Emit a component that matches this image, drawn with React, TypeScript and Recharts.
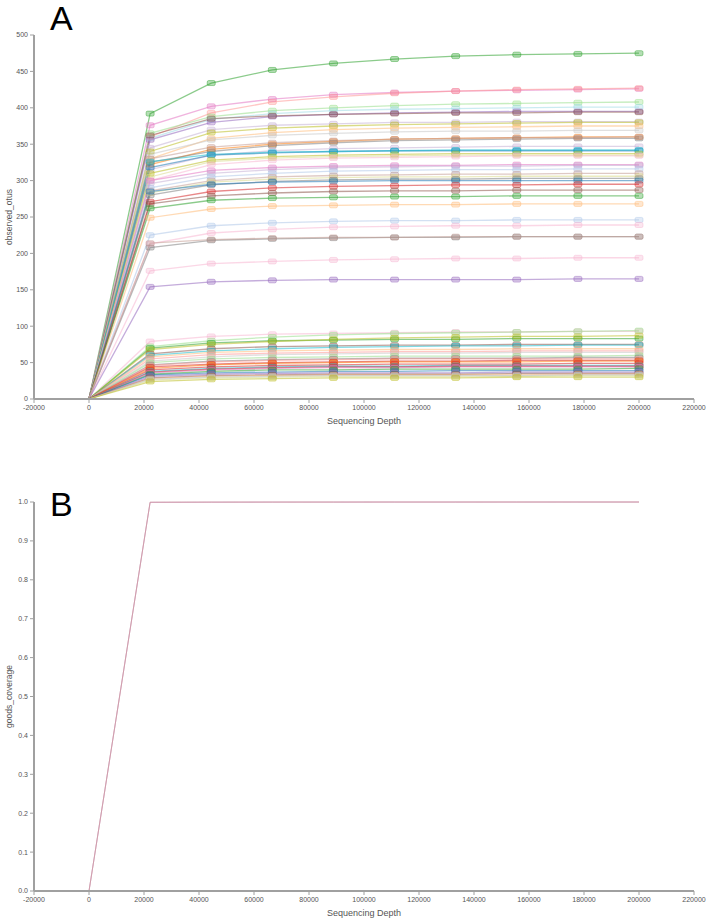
import React from "react";
import { LineChart, Line, XAxis, YAxis } from "recharts";

// sampling depths used by the rarefaction
const depths = [0, 22222, 44444, 66667, 88889, 111111, 133333, 155556, 177778, 200000];

const xTicks = [-20000, 0, 20000, 40000, 60000, 80000, 100000, 120000, 140000, 160000, 180000, 200000, 220000];
const otuTicks = [0, 50, 100, 150, 200, 250, 300, 350, 400, 450, 500];
const coverageTicks = [0, 0.1, 0.2, 0.3, 0.4, 0.5, 0.6, 0.7, 0.8, 0.9, 1.0];

// observed_otus per sample, one row per sample (values at each depth)
const otuValues = [
    [0, 392, 434, 452, 461, 467, 471, 473, 474, 475],
    [0, 376, 402, 412, 418, 421, 423, 424, 425, 426],
    [0, 360, 393, 408, 415, 420, 423, 425, 426, 427],
    [0, 365, 388, 396, 400, 403, 405, 406, 407, 408],
    [0, 358, 384, 392, 396, 398, 399, 400, 401, 401],
    [0, 356, 380, 388, 391, 393, 394, 395, 395, 395],
    [0, 362, 385, 389, 391, 392, 393, 393, 394, 394],
    [0, 345, 370, 376, 378, 380, 380, 381, 381, 381],
    [0, 340, 366, 372, 375, 377, 378, 379, 380, 380],
    [0, 330, 358, 366, 370, 372, 373, 374, 375, 375],
    [0, 336, 356, 362, 365, 367, 368, 368, 369, 369],
    [0, 322, 343, 350, 354, 357, 358, 359, 360, 360],
    [0, 325, 340, 348, 352, 355, 356, 357, 358, 358],
    [0, 330, 346, 352, 355, 357, 358, 359, 359, 360],
    [0, 315, 335, 341, 344, 345, 346, 347, 347, 347],
    [0, 318, 335, 338, 340, 341, 341, 341, 341, 341],
    [0, 326, 336, 339, 340, 341, 342, 342, 342, 342],
    [0, 310, 328, 333, 335, 336, 337, 337, 337, 337],
    [0, 305, 326, 331, 333, 334, 335, 335, 335, 335],
    [0, 300, 322, 328, 331, 332, 333, 334, 334, 334],
    [0, 300, 314, 318, 320, 321, 321, 322, 322, 322],
    [0, 296, 310, 315, 318, 319, 320, 320, 321, 321],
    [0, 290, 305, 310, 313, 314, 315, 315, 316, 316],
    [0, 286, 300, 305, 307, 308, 309, 309, 310, 310],
    [0, 283, 298, 302, 304, 305, 305, 306, 306, 306],
    [0, 280, 294, 299, 301, 302, 302, 303, 303, 303],
    [0, 285, 295, 298, 299, 300, 300, 300, 300, 300],
    [0, 271, 285, 290, 292, 293, 294, 294, 295, 295],
    [0, 268, 279, 283, 285, 286, 286, 287, 287, 287],
    [0, 262, 273, 276, 277, 278, 278, 279, 279, 279],
    [0, 249, 261, 265, 266, 267, 267, 268, 268, 268],
    [0, 225, 238, 242, 244, 245, 245, 246, 246, 246],
    [0, 213, 228, 233, 236, 237, 238, 238, 239, 239],
    [0, 208, 218, 220, 221, 222, 222, 223, 223, 223],
    [0, 214, 219, 221, 222, 222, 223, 223, 223, 223],
    [0, 176, 186, 189, 191, 192, 193, 193, 194, 194],
    [0, 154, 161, 163, 164, 164, 164, 164, 165, 165],
    [0, 79, 86, 89, 90, 91, 92, 92, 93, 93],
    [0, 72, 80, 85, 88, 90, 91, 92, 93, 94],
    [0, 70, 77, 80, 81, 82, 82, 83, 83, 83],
    [0, 68, 75, 79, 82, 84, 85, 86, 86, 87],
    [0, 62, 69, 72, 73, 74, 74, 75, 75, 75],
    [0, 60, 66, 69, 71, 72, 73, 73, 74, 74],
    [0, 58, 64, 66, 67, 68, 68, 69, 69, 69],
    [0, 55, 61, 63, 64, 65, 65, 66, 66, 66],
    [0, 52, 58, 61, 62, 63, 63, 64, 64, 64],
    [0, 50, 55, 57, 58, 59, 59, 59, 59, 60],
    [0, 47, 52, 54, 55, 56, 56, 56, 57, 57],
    [0, 46, 51, 53, 54, 55, 55, 55, 55, 55],
    [0, 44, 48, 50, 51, 52, 52, 53, 53, 53],
    [0, 42, 47, 49, 50, 51, 51, 51, 52, 52],
    [0, 40, 44, 46, 47, 48, 48, 48, 49, 49],
    [0, 38, 42, 44, 45, 45, 46, 46, 46, 46],
    [0, 37, 41, 43, 44, 44, 45, 45, 45, 45],
    [0, 36, 40, 42, 43, 43, 44, 44, 44, 44],
    [0, 34, 38, 40, 40, 41, 41, 41, 41, 42],
    [0, 33, 36, 37, 38, 38, 39, 39, 39, 39],
    [0, 31, 34, 35, 36, 36, 36, 37, 37, 37],
    [0, 29, 32, 33, 34, 34, 34, 35, 35, 35],
    [0, 28, 31, 32, 33, 33, 33, 33, 34, 34],
    [0, 27, 30, 31, 32, 32, 32, 32, 33, 33],
    [0, 26, 29, 30, 31, 31, 31, 31, 32, 32],
    [0, 24, 27, 28, 29, 29, 29, 30, 30, 30],
];

const otuColors = [
    "#2ca02c", "#e377c2", "#ff9896", "#98df8a", "#9edae5", "#9467bd", "#8c564b",
    "#c5b0d5", "#bcbd22", "#ffbb78", "#c7c7c7", "#ff7f0e", "#7f7f7f", "#c49c94",
    "#c5b0d5", "#1f77b4", "#17becf", "#bcbd22", "#dbdb8d", "#f7b6d2", "#e377c2",
    "#c5b0d5", "#aec7e8", "#c49c94", "#dbdb8d", "#7f7f7f", "#1f77b4", "#d62728",
    "#8c564b", "#2ca02c", "#ffbb78", "#aec7e8", "#f7b6d2", "#7f7f7f", "#c49c94",
    "#f7b6d2", "#9467bd",
    "#f7b6d2", "#98df8a", "#2ca02c", "#bcbd22", "#8c564b", "#17becf", "#ffbb78",
    "#ff9896", "#c7c7c7", "#98df8a", "#7f7f7f", "#ff9896", "#d62728", "#ff7f0e",
    "#d62728", "#17becf", "#d62728", "#e377c2", "#2ca02c", "#1f77b4", "#9467bd",
    "#8c564b", "#ffbb78", "#aec7e8", "#dbdb8d", "#bcbd22",
];

// goods_coverage per sample
const coverageValues = [
    [0, 0.9988, 0.9994, 0.9996, 0.9997, 0.9998, 0.9998, 0.9999, 0.9999, 0.9999],
    [0, 0.9992, 0.9996, 0.9998, 0.9998, 0.9999, 0.9999, 0.9999, 1.0, 1.0],
    [0, 0.9996, 0.9998, 0.9999, 0.9999, 1.0, 1.0, 1.0, 1.0, 1.0],
];
const coverageColors = ["#c7c7c7", "#e377c2", "#c49c94"];

const otuRows = depths.map((depth, i) => {
    const row: Record<string, number> = { depth };
    otuValues.forEach((vals, s) => (row[`s${s}`] = vals[i]));
    return row;
});

const coverageRows = depths.map((depth, i) => {
    const row: Record<string, number> = { depth };
    coverageValues.forEach((vals, s) => (row[`s${s}`] = vals[i]));
    return row;
});

const tickFont = {
    fontSize: 7,
    fill: "#555",
    fontFamily: "'Liberation Sans', Arial, sans-serif",
};

const axisLine = { stroke: "#a0a0a0", strokeWidth: 2 };

const sideTitle = (text: string) => (props: any) => {
    const vb = props.viewBox || { x: 0, y: 0, height: 0 };
    const x = vb.x + 9;
    const y = vb.y + vb.height / 2;
    return (
        <text
            x={x}
            y={y}
            transform={`rotate(-90 ${x} ${y})`}
            textAnchor="middle"
            dominantBaseline="central"
            fontSize={8.5}
            fill="#555"
            fontFamily={tickFont.fontFamily}
        >
            {text}
        </text>
    );
};

const markerFor = (color: string) => (props: any) => {
    const { cx, cy, payload, index } = props;
    if (payload.depth === 0 || cx == null) return <g key={`m-${index}`} />;
    return (
        <rect
            key={`m-${index}`}
            x={cx - 4}
            y={cy - 2.5}
            width={8}
            height={5}
            rx={1.5}
            fill={color}
            fillOpacity={0.35}
            stroke={color}
            strokeOpacity={0.45}
            strokeWidth={1}
        />
    );
};

function PanelLetter({ letter, top }: { letter: string; top: number }) {
    return (
        <div
            style={{
                position: "absolute",
                left: 50,
                top,
                fontSize: 34,
                lineHeight: "40px",
                fontFamily: "'Liberation Sans', Arial, sans-serif",
                color: "#000",
            }}
        >
            {letter}
        </div>
    );
}

export default function App() {
    return (
        <div
            style={{
                position: "absolute",
                left: 0,
                top: 0,
                width: 709,
                height: 923,
                background: "#fff",
            }}
        >
            {/* A: observed OTUs */}
            <div style={{ position: "absolute", left: 0, top: 0 }}>
                <LineChart
                    width={709}
                    height={440}
                    data={otuRows}
                    margin={{ top: 35, right: 15, bottom: 11, left: 0 }}
                >
                    <XAxis
                        dataKey="depth"
                        type="number"
                        domain={[-20000, 220000]}
                        ticks={xTicks}
                        interval={0}
                        height={30}
                        tick={tickFont}
                        tickSize={4}
                        axisLine={axisLine}
                        tickLine={{ stroke: "#a0a0a0" }}
                        label={{
                            value: "Sequencing Depth",
                            position: "insideBottom",
                            offset: 5,
                            style: { ...tickFont, fontSize: 9 },
                        }}
                    />
                    <YAxis
                        type="number"
                        domain={[0, 500]}
                        ticks={otuTicks}
                        interval={0}
                        width={34}
                        tick={tickFont}
                        tickSize={4}
                        axisLine={axisLine}
                        tickLine={{ stroke: "#a0a0a0" }}
                        label={{ content: sideTitle("observed_otus") }}
                    />
                    {otuValues.map((_, s) => (
                        <Line
                            key={`otu-${s}`}
                            type="linear"
                            dataKey={`s${s}`}
                            stroke={otuColors[s]}
                            strokeWidth={1.3}
                            strokeOpacity={0.55}
                            dot={markerFor(otuColors[s])}
                            activeDot={false}
                            isAnimationActive={false}
                        />
                    ))}
                </LineChart>
            </div>
            <PanelLetter letter="A" top={-2} />

            {/* B: Good's coverage */}
            <div style={{ position: "absolute", left: 0, top: 460 }}>
                <LineChart
                    width={709}
                    height={463}
                    data={coverageRows}
                    margin={{ top: 42, right: 15, bottom: 2, left: 0 }}
                >
                    <XAxis
                        dataKey="depth"
                        type="number"
                        domain={[-20000, 220000]}
                        ticks={xTicks}
                        interval={0}
                        height={30}
                        tick={tickFont}
                        tickSize={4}
                        axisLine={axisLine}
                        tickLine={{ stroke: "#a0a0a0" }}
                        label={{
                            value: "Sequencing Depth",
                            position: "insideBottom",
                            offset: 5,
                            style: { ...tickFont, fontSize: 9 },
                        }}
                    />
                    <YAxis
                        type="number"
                        domain={[0, 1]}
                        ticks={coverageTicks}
                        interval={0}
                        width={34}
                        tick={tickFont}
                        tickFormatter={(v: number) => v.toFixed(1)}
                        tickSize={4}
                        axisLine={axisLine}
                        tickLine={{ stroke: "#a0a0a0" }}
                        label={{ content: sideTitle("goods_coverage") }}
                    />
                    {coverageValues.map((_, s) => (
                        <Line
                            key={`cov-${s}`}
                            type="linear"
                            dataKey={`s${s}`}
                            stroke={coverageColors[s]}
                            strokeWidth={1}
                            strokeOpacity={0.6}
                            dot={false}
                            activeDot={false}
                            isAnimationActive={false}
                        />
                    ))}
                </LineChart>
            </div>
            <PanelLetter letter="B" top={484} />
        </div>
    );
}
